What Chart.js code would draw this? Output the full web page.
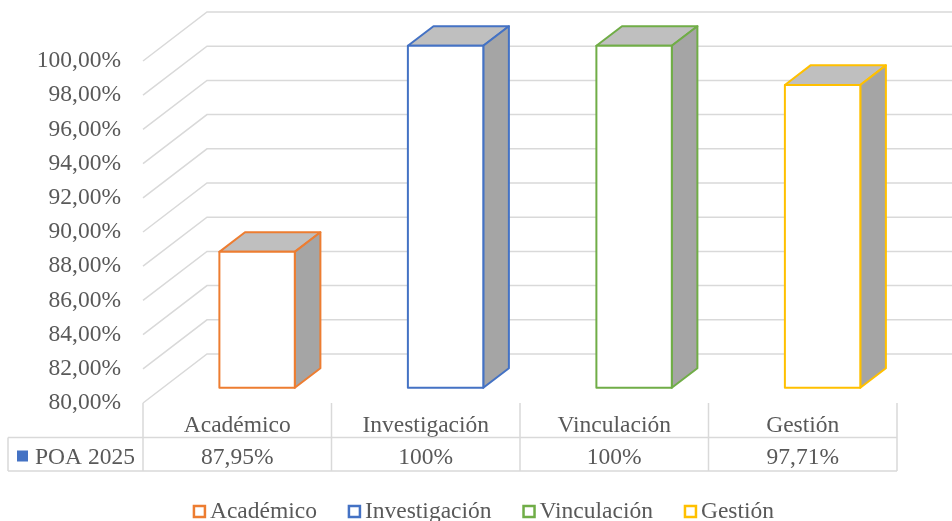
<!DOCTYPE html>
<html>
<head>
<meta charset="utf-8">
<script src="https://cdn.jsdelivr.net/npm/chart.js@4.4.1/dist/chart.umd.min.js"></script>
<style>
    html, body { margin: 0; padding: 0; background: #fff; overflow: hidden; }
    #wrap { width: 952px; height: 521px; }
</style>
</head>
<body>
<div id="wrap"><canvas id="myChart"></canvas></div>
<script>
const categories = ['Académico', 'Investigación', 'Vinculación', 'Gestión'];
const seriesName = 'POA 2025';
const poa2025 = [87.95, 100, 100, 97.71];
const yTicks = [80, 82, 84, 86, 88, 90, 92, 94, 96, 98, 100];
const barColors = ['#ED7D31', '#4472C4', '#70AD47', '#FFC000'];

const FONT = '23.5px "Liberation Serif"';
const TEXT = '#595959';
const GRID = '#D9D9D9';
// 3d look: wall depth, where the bars sit inside it
const depth = { x: 64, y: -49 };
const barFront = 0.31;
const barDepth = 0.4;

function pct(v) {
    if (Number.isInteger(v)) return v + '%';
    return v.toFixed(2).replace('.', ',') + '%';
}

const threeD = {
    id: 'threeD',
    beforeDatasetsDraw(chart) {
        const { ctx, chartArea: a, scales: { y } } = chart;
        ctx.save();
        ctx.strokeStyle = GRID;
        ctx.lineWidth = 1.5;
        yTicks.forEach((v) => {
            const py = y.getPixelForValue(v);
            ctx.beginPath();
            ctx.moveTo(a.left, py);
            ctx.lineTo(a.left + depth.x, py + depth.y);
            ctx.lineTo(a.right + depth.x, py + depth.y);
            ctx.stroke();
        });
        ctx.restore();
    },
    afterDatasetsDraw(chart) {
        const ctx = chart.ctx;
        const meta = chart.getDatasetMeta(0);
        const fx = depth.x * barFront, fy = depth.y * barFront;
        const dx = depth.x * barDepth, dy = depth.y * barDepth;
        ctx.save();
        ctx.lineWidth = 2;
        ctx.lineJoin = 'round';
        meta.data.forEach((bar, i) => {
            const p = bar.getProps(['x', 'y', 'base', 'width'], true);
            const L = p.x - p.width / 2 + fx, R = p.x + p.width / 2 + fx;
            const T = p.y + fy, B = p.base + fy;
            ctx.strokeStyle = barColors[i];
            // top
            ctx.beginPath();
            ctx.moveTo(L, T);
            ctx.lineTo(L + dx, T + dy);
            ctx.lineTo(R + dx, T + dy);
            ctx.lineTo(R, T);
            ctx.closePath();
            ctx.fillStyle = '#BFBFBF';
            ctx.fill();
            ctx.stroke();
            // side
            ctx.beginPath();
            ctx.moveTo(R, T);
            ctx.lineTo(R + dx, T + dy);
            ctx.lineTo(R + dx, B + dy);
            ctx.lineTo(R, B);
            ctx.closePath();
            ctx.fillStyle = '#A5A5A5';
            ctx.fill();
            ctx.stroke();
            // front
            ctx.fillStyle = '#FFFFFF';
            ctx.fillRect(L, T, R - L, B - T);
            ctx.strokeRect(L, T, R - L, B - T);
        });
        ctx.restore();
    },
    afterDraw(chart) {
        const { ctx, chartArea: a, scales: { x } } = chart;
        const colW = (a.right - a.left) / categories.length;
        const row1 = a.bottom + 34.5, row2 = a.bottom + 68;
        ctx.save();
        // data table
        ctx.strokeStyle = GRID;
        ctx.lineWidth = 1.5;
        ctx.beginPath();
        ctx.moveTo(8, row1); ctx.lineTo(a.right, row1);
        ctx.moveTo(8, row2); ctx.lineTo(a.right, row2);
        ctx.moveTo(8, row1); ctx.lineTo(8, row2);
        for (let i = 0; i <= categories.length; i++) {
            const px = a.left + i * colW;
            ctx.moveTo(px, a.bottom); ctx.lineTo(px, row2);
        }
        ctx.stroke();

        ctx.font = FONT;
        ctx.fillStyle = TEXT;
        ctx.textBaseline = 'middle';
        ctx.textAlign = 'center';
        const rowY = row1 + 20;
        poa2025.forEach((v, i) => {
            ctx.fillText(pct(v), x.getPixelForValue(i), rowY);
        });
        ctx.textAlign = 'left';
        ctx.fillText(seriesName, 35, rowY);
        ctx.fillStyle = '#4472C4';
        ctx.fillRect(17, rowY - 7, 11, 11);

        // legend
        const gap = 31, boxW = 13;
        const widths = categories.map(c => boxW + 4 + ctx.measureText(c).width);
        const total = widths.reduce((s, w) => s + w, 0) + gap * (categories.length - 1);
        let lx = 483.5 - total / 2;
        const ly = 512;
        categories.forEach((c, i) => {
            ctx.strokeStyle = barColors[i];
            ctx.lineWidth = 2.5;
            ctx.fillStyle = '#fff';
            ctx.fillRect(lx + 1, ly - 6, boxW - 2, boxW - 2);
            ctx.strokeRect(lx + 1, ly - 6, boxW - 2, boxW - 2);
            ctx.fillStyle = TEXT;
            ctx.fillText(c, lx + boxW + 4, ly);
            lx += widths[i] + gap;
        });
        ctx.restore();
    }
};

Chart.defaults.font.family = '"Liberation Serif"';

new Chart(document.getElementById('myChart'), {
    type: 'bar',
    data: {
        labels: categories,
        datasets: [{
            label: seriesName,
            data: poa2025,
            base: yTicks[0],
            backgroundColor: 'rgba(0,0,0,0)',
            borderWidth: 0,
            categoryPercentage: 1,
            barPercentage: 0.4
        }]
    },
    options: {
        responsive: true,
        maintainAspectRatio: false,
        animation: false,
        layout: { padding: { top: 61, right: 55, left: 0, bottom: 0 } },
        scales: {
            y: {
                min: yTicks[0],
                max: yTicks[yTicks.length - 1],
                afterFit: (scale) => { scale.width = 143; },
                afterBuildTicks: (scale) => { scale.ticks = yTicks.map(v => ({ value: v })); },
                grid: { display: false },
                border: { display: false },
                ticks: {
                    padding: 14,
                    color: TEXT,
                    font: { size: 23.5 },
                    callback: (v) => v.toFixed(2).replace('.', ',') + '%'
                }
            },
            x: {
                afterFit: (scale) => { scale.height = 118; },
                grid: { display: false },
                border: { display: false },
                ticks: {
                    padding: 1,
                    color: TEXT,
                    maxRotation: 0,
                    autoSkip: false,
                    font: { size: 23.5 }
                }
            }
        },
        plugins: {
            legend: { display: false },
            tooltip: { enabled: false }
        }
    },
    plugins: [threeD]
});
</script>
</body>
</html>
